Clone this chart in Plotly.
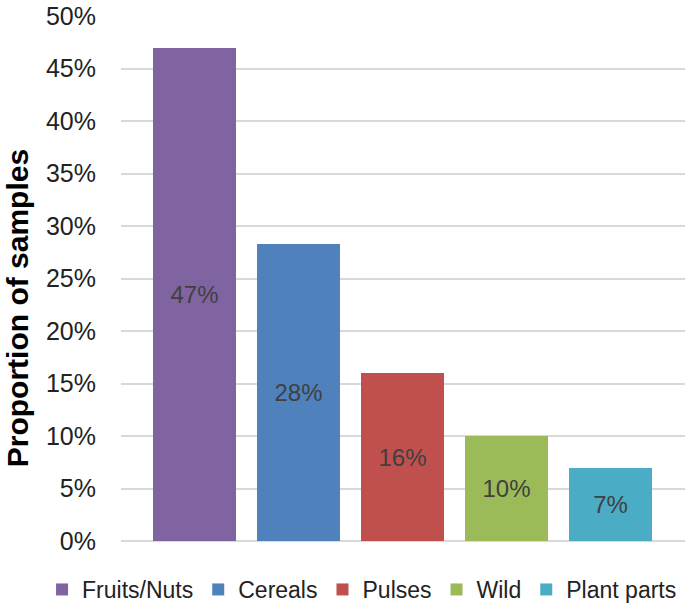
import plotly.graph_objects as go

categories = ['Fruits/Nuts', 'Cereals', 'Pulses', 'Wild', 'Plant parts']
proportions = [0.47, 0.283, 0.16, 0.10, 0.07]
labels = ['47%', '28%', '16%', '10%', '7%']
colors = ['#8064A2', '#4F81BD', '#C0504D', '#9BBB59', '#4BACC6']

FONT = 'Liberation Sans, Arial'

fig = go.Figure()

for i, (cat, val, lab, col) in enumerate(zip(categories, proportions, labels, colors)):
    fig.add_trace(
        go.Bar(
            x=[i], y=[val], name=cat, width=0.8,
            marker=dict(color=col, line=dict(width=0)),
            text=[lab], textposition='inside', insidetextanchor='middle',
            textfont=dict(color='#404040', size=24, family=FONT),
            hovertemplate=f'{cat}: %{{y:.0%}}<extra></extra>'
        )
    )

fig.update_xaxes(
    range=[-0.707, 4.716], showticklabels=False, showgrid=False,
    zeroline=False, showline=False, automargin=False
)
fig.update_yaxes(
    range=[0, 0.5], dtick=0.05, tickformat='.0%',
    showgrid=True, gridcolor='#D9D9D9', gridwidth=1.5,
    zeroline=True, zerolinecolor='#D9D9D9', zerolinewidth=1.5,
    tickfont=dict(size=25, color='#222222', family=FONT),
    ticklabelstandoff=24, automargin=False
)

# y-axis title as annotation so it sits where the reference puts it
fig.add_annotation(
    text='<b>Proportion of samples</b>', textangle=-90,
    xref='paper', yref='paper', x=-0.182, y=0.444,
    xanchor='center', yanchor='middle', showarrow=False,
    font=dict(size=30, color='#000000', family=FONT)
)

fig.update_layout(
    width=685, height=611,
    margin=dict(l=121, r=0, t=16, b=66),
    plot_bgcolor='white', paper_bgcolor='white',
    barmode='overlay', bargap=0,
    showlegend=True,
    legend=dict(
        orientation='h',
        x=-0.14, xanchor='left', y=-0.093, yanchor='middle',
        font=dict(size=23, color='#222222', family=FONT),
        itemwidth=30, tracegroupgap=0
    ),
    uniformtext=dict(minsize=20, mode='show')
)

fig.write_html('out.html', config={'displayModeBar': False},
               post_script="document.body.style.margin='0';")
